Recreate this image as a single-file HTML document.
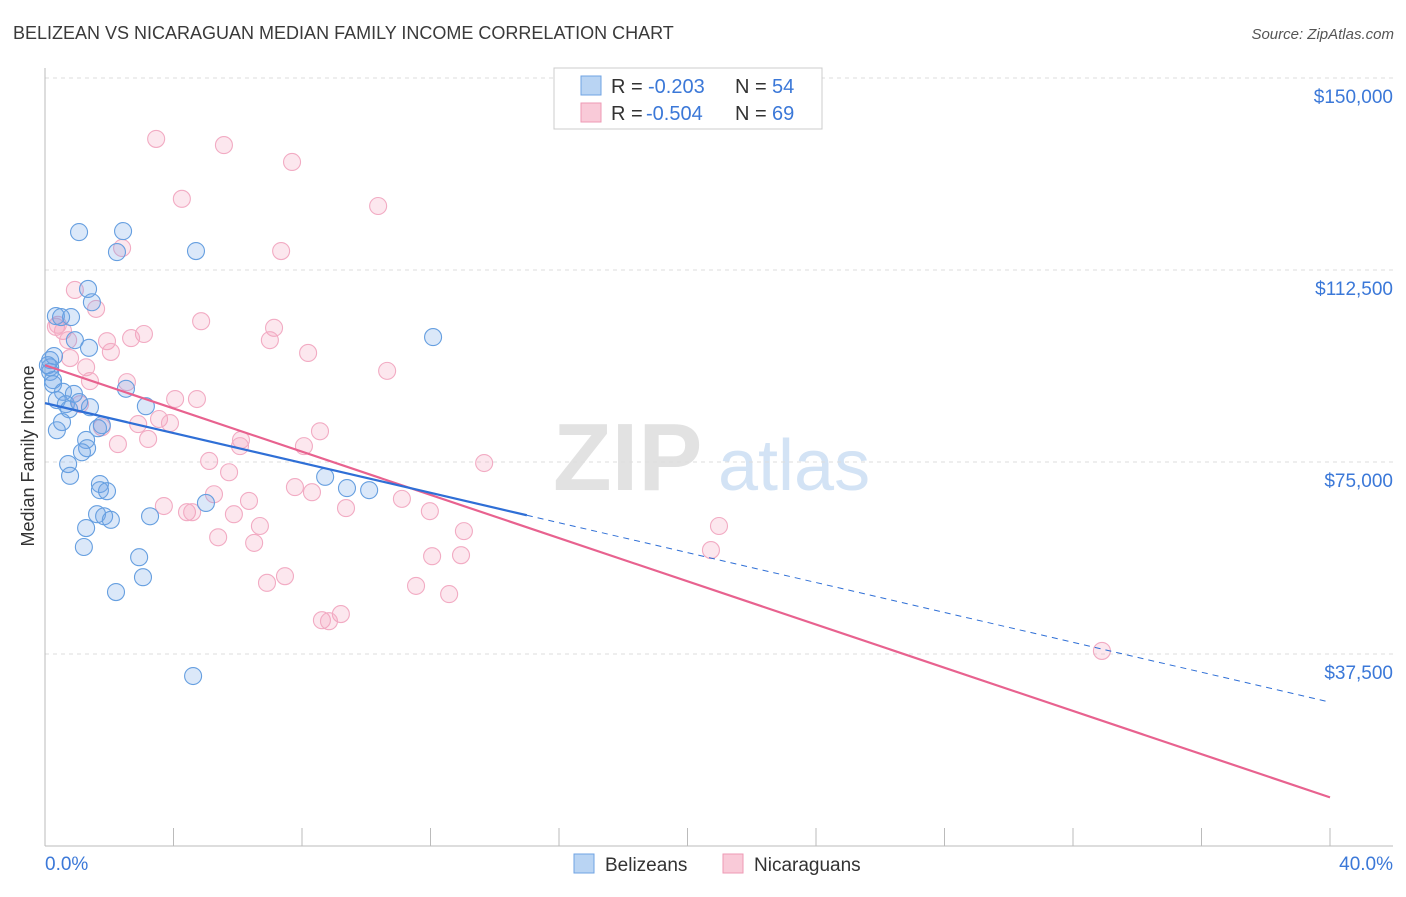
<!DOCTYPE html>
<html><head><meta charset="utf-8"><style>
body{margin:0;background:#fff;font-family:"Liberation Sans",sans-serif;}
svg text{font-family:"Liberation Sans",sans-serif;}
</style></head><body>
<svg id="chart" width="1406" height="892" viewBox="0 0 1406 892">
<text x="13" y="39" font-size="18" fill="#3a3a3a">BELIZEAN VS NICARAGUAN MEDIAN FAMILY INCOME CORRELATION CHART</text>
<text x="1394" y="39" font-size="15" fill="#555" font-style="italic" text-anchor="end">Source: ZipAtlas.com</text>
<g>
<text x="553" y="490" font-size="96" fill="#e2e2e2" font-family="Liberation Serif" font-weight="bold">ZIP</text>
<text x="718" y="490" font-size="72" fill="#d3e3f5">atlas</text>
</g>
<g id="grid"></g>
<g id="axes"></g>
<g id="points"></g>
<g id="lines"></g>
<text transform="translate(34,456) rotate(-90)" font-size="18" fill="#333" text-anchor="middle">Median Family Income</text>
<g>
<rect x="554" y="68" width="268" height="61" fill="#fff" stroke="#ccc"/>
<rect x="581" y="76" width="20" height="19" fill="#b9d4f3" stroke="#6fa3e3"/>
<text x="611" y="93" font-size="20" fill="#333">R =</text>
<text x="648" y="93" font-size="20" fill="#3b78d8">-0.203</text>
<text x="735" y="93" font-size="20" fill="#333">N =</text>
<text x="772" y="93" font-size="20" fill="#3b78d8">54</text>
<rect x="581" y="103" width="20" height="19" fill="#f9cad8" stroke="#ee9ab4"/>
<text x="611" y="120" font-size="20" fill="#333">R =</text>
<text x="646" y="120" font-size="20" fill="#3b78d8">-0.504</text>
<text x="735" y="120" font-size="20" fill="#333">N =</text>
<text x="772" y="120" font-size="20" fill="#3b78d8">69</text>
</g>
<g>
<rect x="574" y="854" width="20" height="19" fill="#b9d4f3" stroke="#6fa3e3"/>
<text x="605" y="871" font-size="19" fill="#333">Belizeans</text>
<rect x="723" y="854" width="20" height="19" fill="#f9cad8" stroke="#ee9ab4"/>
<text x="754" y="871" font-size="19" fill="#333">Nicaraguans</text>
</g>
</svg>
<script>
const yTicks=[37500,75000,112500,150000];
const yTickLabels=["$37,500","$75,000","$112,500","$150,000"];
const xTickLabels=["0.0%","40.0%"];
const blueX=[1.06,2.43,2.24,4.70,12.08,1.34,1.46,0.34,0.81,0.50,0.93,1.37,0.16,0.16,0.16,0.25,0.25,0.56,0.90,2.52,0.37,0.65,0.75,1.06,3.14,0.53,0.37,1.65,1.28,1.31,1.15,0.72,0.78,8.72,9.40,10.09,1.71,1.71,1.93,5.01,1.62,1.84,2.05,3.27,1.28,1.21,2.93,3.05,2.21,4.61,0.28,1.77,0.09,1.40];
const blueY=[119.9,120.1,116.0,116.2,99.4,108.8,106.2,103.5,103.3,103.3,98.8,97.3,94.9,93.5,92.6,91.0,90.2,88.7,88.3,89.3,87.1,86.3,85.3,86.7,85.9,82.8,81.2,81.6,79.3,77.7,76.9,74.6,72.3,72.1,69.9,69.5,70.7,69.5,69.3,67.0,64.8,64.4,63.7,64.4,62.1,58.4,56.4,52.5,49.6,33.2,95.7,82.2,93.9,85.7];
const pinkX=[3.46,5.57,7.69,4.26,10.37,2.40,7.35,0.93,1.59,4.86,0.34,0.56,7.13,3.08,2.68,1.93,7.00,0.72,2.05,8.19,0.78,10.65,1.28,1.40,2.55,4.05,4.73,1.09,3.55,3.89,2.90,1.77,8.56,6.10,3.21,6.07,2.27,8.06,5.11,13.67,5.73,5.26,7.78,8.31,11.11,3.70,6.35,4.42,4.58,11.98,9.37,5.88,6.69,20.98,5.39,6.51,13.04,12.05,12.95,20.73,7.47,6.91,11.55,12.58,9.21,8.62,8.84,32.90,0.40];
const pinkY=[138.1,136.9,133.6,126.4,125.0,116.8,116.2,108.6,104.9,102.5,101.4,100.6,101.2,100.0,99.2,98.6,98.8,98.8,96.5,96.3,95.3,92.8,93.5,90.8,90.6,87.3,87.3,86.3,83.4,82.6,82.4,81.8,81.0,79.3,79.5,78.1,78.5,78.1,75.2,74.8,73.0,68.7,70.1,69.1,67.8,66.4,67.4,65.2,65.2,65.4,66.0,64.8,62.5,62.5,60.3,59.2,61.5,56.6,56.8,57.8,52.7,51.4,50.8,49.2,45.3,44.1,43.9,38.1,101.8];
const blueTrend=[86.5,-1.46];
const pinkTrend=[93.9,-2.11];
const X0=45,X1=1330,Y0=846;
const xs=v=>X0+(X1-X0)*v/40;
const ys=v=>Y0-(Y0-654)*v/37.5;
const NS="http://www.w3.org/2000/svg";
function mk(tag,attrs,parent){const e=document.createElementNS(NS,tag);for(const k in attrs)e.setAttribute(k,attrs[k]);document.getElementById(parent).appendChild(e);return e;}
yTicks.forEach((t,i)=>{
 const y=ys(t/1000);
 const g=mk('line',{x1:45,x2:1393,y1:y,y2:y,stroke:'#ddd','stroke-dasharray':'4,4'},'grid');
 
 
 const tx=mk('text',{x:1393,y:y+25,'font-size':19,fill:'#3b78d8','text-anchor':'end'},'axes');
 tx.textContent=yTickLabels[i];
 
 
});
let a=mk('line',{x1:45,x2:45,y1:68,y2:846,stroke:'#bbb'},'axes');


a=mk('line',{x1:45,x2:1393,y1:846,y2:846,stroke:'#bbb'},'axes');


for(let i=0;i<=10;i++){const x=xs(i*4);const t=mk('line',{x1:x,x2:x,y1:828,y2:846,stroke:'#bbb'},'axes');
 
 }
let l=mk('text',{x:45,y:870,'font-size':19,fill:'#3b78d8'},'axes');l.textContent=xTickLabels[0];


l=mk('text',{x:1393,y:870,'font-size':19,fill:'#3b78d8','text-anchor':'end'},'axes');l.textContent=xTickLabels[1];


pinkX.forEach((v,i)=>{const c=mk('circle',{cx:xs(v),cy:ys(pinkY[i]),r:8.5,fill:'rgba(244,160,188,0.25)',stroke:'#f2abc3','stroke-width':1.1},'points');
 
 });
blueX.forEach((v,i)=>{const c=mk('circle',{cx:xs(v),cy:ys(blueY[i]),r:8.5,fill:'rgba(110,165,230,0.25)',stroke:'#669fe0','stroke-width':1.1},'points');
 
 });
const bt=x=>blueTrend[0]+blueTrend[1]*x, pt=x=>pinkTrend[0]+pinkTrend[1]*x;
let t=mk('line',{x1:xs(0),y1:ys(pt(0)),x2:xs(40),y2:ys(pt(40)),stroke:'#e8628f','stroke-width':2.2},'lines');


t=mk('line',{x1:xs(0),y1:ys(bt(0)),x2:xs(15),y2:ys(bt(15)),stroke:'#2f6fd6','stroke-width':2.2},'lines');


t=mk('line',{x1:xs(15),y1:ys(bt(15)),x2:xs(40),y2:ys(bt(40)),stroke:'#2f6fd6','stroke-width':1,'stroke-dasharray':'6,5'},'lines');


</script>
</body></html>
